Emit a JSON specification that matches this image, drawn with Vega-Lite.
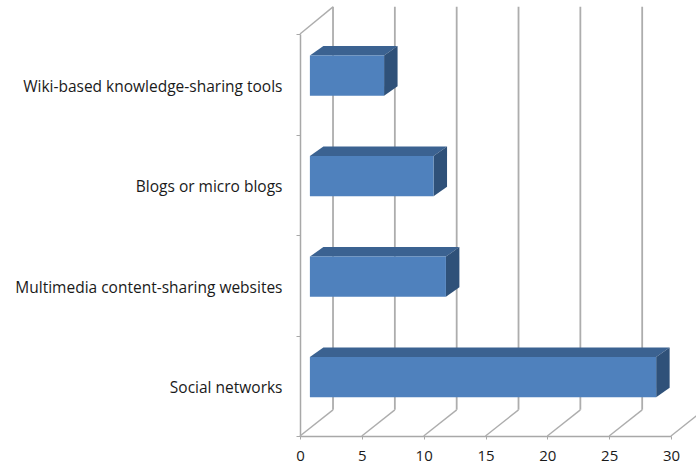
{
  "$schema": "https://vega.github.io/schema/vega-lite/v6.json",
  "width": 371,
  "height": 402,
  "autosize": {"type": "none"},
  "padding": {"left": 300, "top": 34, "right": 25, "bottom": 32},
  "background": "#ffffff",
  "config": {"view": {"stroke": null}},
  "datasets": {
    "adoption": [
      {"tool": "Wiki-based knowledge-sharing tools", "value": 6},
      {"tool": "Blogs or micro blogs", "value": 10},
      {"tool": "Multimedia content-sharing websites", "value": 11},
      {"tool": "Social networks", "value": 28}
    ],
    "ticks": [{"tick": 0}, {"tick": 5}, {"tick": 10}, {"tick": 15}, {"tick": 20}, {"tick": 25}, {"tick": 30}]
  },
  "layer": [
    {
      "description": "Category axis with ticks on the band edges",
      "data": {"name": "adoption"},
      "mark": {"type": "point", "opacity": 0},
      "encoding": {
        "x": {"field": "value", "type": "quantitative", "scale": {"domain": [0, 30]}, "axis": {
          "title": null, "values": [0, 5, 10, 15, 20, 25, 30], "grid": false, "labelFlush": false,
          "domainColor": "#a8a8a8", "domainWidth": 1.5, "tickColor": "#a8a8a8", "tickSize": 3,
          "labelFont": "Open Sans", "labelFontSize": 15, "labelColor": "#1a1a1a", "labelPadding": 9
        }},
        "y": {"field": "tool", "type": "nominal", "sort": null, "scale": {"type": "band", "paddingInner": 0, "paddingOuter": 0}, "axis": {
          "title": null, "tickBand": "extent", "domainColor": "#a8a8a8", "domainWidth": 1.5,
          "tickColor": "#a8a8a8", "tickSize": 4, "labelFont": "Open Sans", "labelFontSize": 15.5,
          "labelColor": "#1a1a1a", "labelPadding": 14, "labelLimit": 300, "labelOffset": 2
        }}
      }
    },
    {
      "description": "Back wall gridlines and floor diagonals, pushed back by the chart depth",
      "layer": [
        {
          "data": {"name": "ticks"},
          "transform": [
            {"filter": "datum.tick < 30"},
            {"calculate": "datum.tick + 2.67", "as": "backX"},
            {"calculate": "0.26", "as": "wallBottom"},
            {"calculate": "4.27", "as": "wallTop"}
          ],
          "mark": {"type": "rule", "color": "#adadad", "strokeWidth": 1.8},
          "encoding": {
            "x": {"field": "backX", "type": "quantitative", "scale": {"domain": [0, 30]}, "title": null},
            "y": {"field": "wallBottom", "type": "quantitative", "scale": {"domain": [0, 4]}, "axis": null},
            "y2": {"field": "wallTop"}
          }
        },
        {
          "data": {"name": "ticks"},
          "transform": [
            {"calculate": "datum.tick + 2.67", "as": "backX"},
            {"calculate": "0", "as": "frontY"},
            {"calculate": "0.26", "as": "backY"}
          ],
          "mark": {"type": "rule", "color": "#adadad", "strokeWidth": 1.4},
          "encoding": {
            "x": {"field": "tick", "type": "quantitative", "scale": {"domain": [0, 30]}, "title": null},
            "x2": {"field": "backX"},
            "y": {"field": "frontY", "type": "quantitative", "scale": {"domain": [0, 4]}, "axis": null},
            "y2": {"field": "backY"}
          }
        },
        {
          "data": {"name": "ticks"},
          "transform": [
            {"filter": "datum.tick === 0"},
            {"calculate": "2.67", "as": "backX"},
            {"calculate": "4", "as": "frontY"},
            {"calculate": "4.27", "as": "backY"}
          ],
          "mark": {"type": "rule", "color": "#adadad", "strokeWidth": 1.4},
          "encoding": {
            "x": {"field": "tick", "type": "quantitative", "scale": {"domain": [0, 30]}, "title": null},
            "x2": {"field": "backX"},
            "y": {"field": "frontY", "type": "quantitative", "scale": {"domain": [0, 4]}, "axis": null},
            "y2": {"field": "backY"}
          }
        },
        {
          "description": "Bar top faces",
          "data": {"name": "adoption"},
          "transform": [
            {"calculate": "[0, 1, 2, 3]", "as": "corner"},
            {"flatten": ["corner"]},
            {"calculate": "3 - indexof(['Wiki-based knowledge-sharing tools', 'Blogs or micro blogs', 'Multimedia content-sharing websites', 'Social networks'], datum.tool) + 0.785", "as": "barTop"},
            {"calculate": "[0.8, 0.8 + 1.09, 0.8 + datum.value, 0.8 + datum.value + 1.09][datum.corner]", "as": "px"},
            {"calculate": "datum.barTop + (datum.corner === 3 ? 0.095 : 0)", "as": "low"},
            {"calculate": "datum.barTop + (datum.corner === 0 ? 0 : 0.095)", "as": "high"}
          ],
          "mark": {"type": "area", "orient": "vertical", "color": "#3b6291"},
          "encoding": {
            "x": {"field": "px", "type": "quantitative", "scale": {"domain": [0, 30]}, "title": null},
            "y": {"field": "low", "type": "quantitative", "scale": {"domain": [0, 4]}, "axis": null, "stack": null},
            "y2": {"field": "high"},
            "detail": {"field": "tool"}
          }
        },
        {
          "description": "Bar side faces",
          "data": {"name": "adoption"},
          "transform": [
            {"calculate": "[0, 1]", "as": "corner"},
            {"flatten": ["corner"]},
            {"calculate": "3 - indexof(['Wiki-based knowledge-sharing tools', 'Blogs or micro blogs', 'Multimedia content-sharing websites', 'Social networks'], datum.tool) + 0.785", "as": "barTop"},
            {"calculate": "0.8 + datum.value + datum.corner * 1.09", "as": "px"},
            {"calculate": "datum.barTop - 0.4 + datum.corner * 0.095", "as": "low"},
            {"calculate": "datum.barTop + datum.corner * 0.095", "as": "high"}
          ],
          "mark": {"type": "area", "orient": "vertical", "color": "#2f5179"},
          "encoding": {
            "x": {"field": "px", "type": "quantitative", "scale": {"domain": [0, 30]}, "title": null},
            "y": {"field": "low", "type": "quantitative", "scale": {"domain": [0, 4]}, "axis": null, "stack": null},
            "y2": {"field": "high"},
            "detail": {"field": "tool"}
          }
        },
        {
          "description": "Bar front faces",
          "data": {"name": "adoption"},
          "transform": [
            {"calculate": "3 - indexof(['Wiki-based knowledge-sharing tools', 'Blogs or micro blogs', 'Multimedia content-sharing websites', 'Social networks'], datum.tool) + 0.785", "as": "barTop"},
            {"calculate": "datum.barTop - 0.4", "as": "barBottom"},
            {"calculate": "0.8", "as": "start"},
            {"calculate": "0.8 + datum.value", "as": "end"}
          ],
          "mark": {"type": "rect", "color": "#4f81bd"},
          "encoding": {
            "x": {"field": "start", "type": "quantitative", "scale": {"domain": [0, 30]}, "title": null},
            "x2": {"field": "end"},
            "y": {"field": "barBottom", "type": "quantitative", "scale": {"domain": [0, 4]}, "axis": null},
            "y2": {"field": "barTop"}
          }
        }
      ]
    }
  ],
  "resolve": {"scale": {"y": "independent"}}
}
